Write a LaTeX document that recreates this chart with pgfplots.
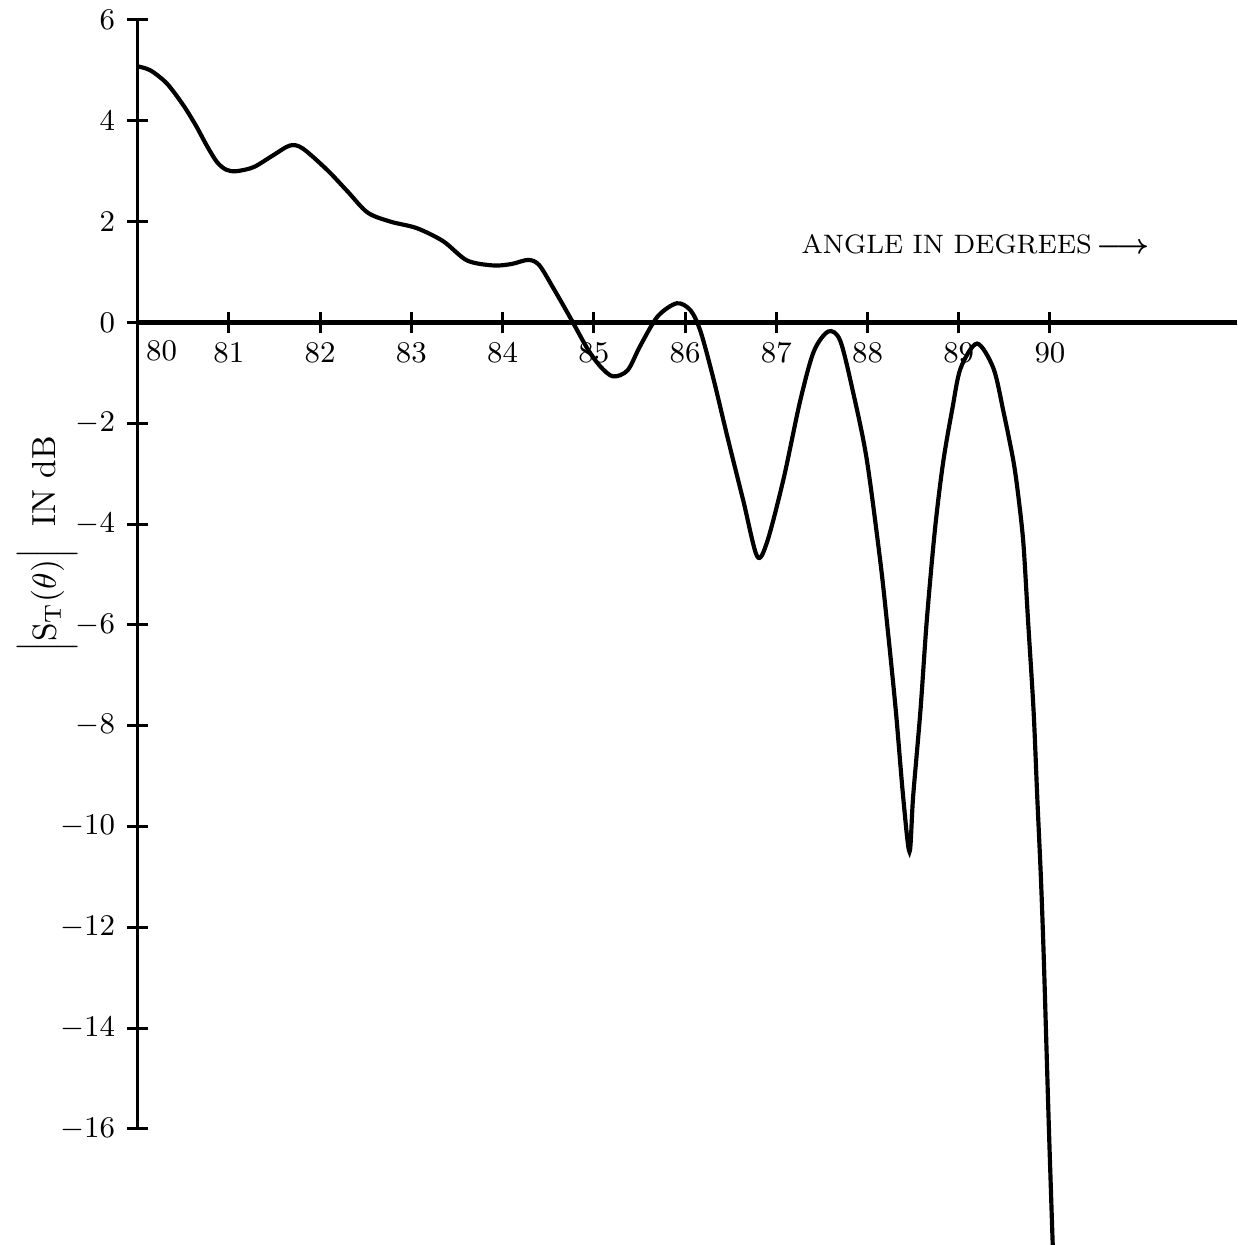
\documentclass[border=0pt]{standalone}
\usepackage{pgfplots}
\pgfplotsset{compat=1.18}
\usepackage{amsmath}
\begin{document}
\begin{tikzpicture}
\begin{axis}[
  scale only axis,
  width=329.8pt, height=332.7pt,
  xmin=80, xmax=92.05, ymin=-16, ymax=6,
  clip=false,
  axis x line=middle, axis y line=left,
  axis line style={-, line width=1.1pt},
  x axis line style={line width=1.5pt},
  xtick={81,82,83,84,85,86,87,88,89,90},
  extra x ticks={80},
  extra x tick style={major tick length=0pt, xticklabel style={anchor=north west, xshift=-1pt, yshift=-2.5pt}},
  ytick={-16,-14,...,6},
  tick align=center,
  major tick length=6.5pt,
  tick style={line width=0.9pt, black},
  xticklabel style={font=\fontsize{9.3}{10}\selectfont, yshift=0.5pt},
  yticklabel style={font=\fontsize{9.3}{10}\selectfont},
  every axis y label/.style={at={(axis description cs:-0.082,0.527)}, rotate=90, anchor=center},
  ylabel={$\Bigl|\mathrm{S}_{\mathrm{T}}(\theta)\Bigr|$\ \ IN dB},
]
\addplot[black, line width=1.25pt, smooth, tension=0.5] coordinates {
(80.00,5.08) (80.14,5.00) (80.32,4.74) (80.50,4.31) (80.64,3.90) (80.76,3.50)
(80.87,3.18) (80.97,3.03) (81.08,3.00) (81.27,3.08) (81.48,3.31) (81.67,3.51)
(81.81,3.45) (82.08,3.02) (82.30,2.60) (82.52,2.18) (82.77,2.00) (83.06,1.87)
(83.35,1.61) (83.61,1.23) (83.90,1.13) (84.10,1.16) (84.28,1.24) (84.40,1.14)
(84.55,0.70) (84.74,0.10) (84.93,-0.52) (85.07,-0.87) (85.21,-1.07) (85.37,-0.95)
(85.51,-0.46) (85.70,0.12) (85.91,0.38) (86.06,0.24) (86.17,-0.18) (86.31,-1.11)
(86.46,-2.24) (86.64,-3.55) (86.79,-4.64) (86.90,-4.35) (87.08,-3.10) (87.26,-1.57)
(87.41,-0.58) (87.57,-0.18) (87.70,-0.36) (87.84,-1.37) (87.99,-2.70) (88.14,-4.74)
(88.22,-6.07) (88.31,-7.70) (88.39,-9.40) (88.46,-10.50) (88.50,-9.40) (88.58,-7.70)
(88.65,-5.90) (88.74,-4.09) (88.83,-2.76) (88.93,-1.71) (89.02,-0.91) (89.20,-0.42)
(89.38,-0.91) (89.49,-1.77) (89.60,-2.76) (89.66,-3.55) (89.71,-4.42) (89.76,-5.93)
(89.82,-7.70) (89.86,-9.40) (89.90,-11.00) (89.93,-12.50) (89.96,-14.30) (89.99,-16.10)
(90.03,-18.30)
};
\node[font=\fontsize{8}{10}\selectfont, anchor=west, inner sep=0pt] at (axis cs:87.27,1.55) {ANGLE IN DEGREES\,$\boldsymbol{\longrightarrow}$};
\coordinate (O) at (rel axis cs:0,0);
\coordinate (T) at (rel axis cs:1,1);
\end{axis}
\pgfresetboundingbox
\path ([shift={(-41.3pt,-34.8pt)}]O) rectangle ([shift={(0pt,6pt)}]T);
\end{tikzpicture}
\end{document}
